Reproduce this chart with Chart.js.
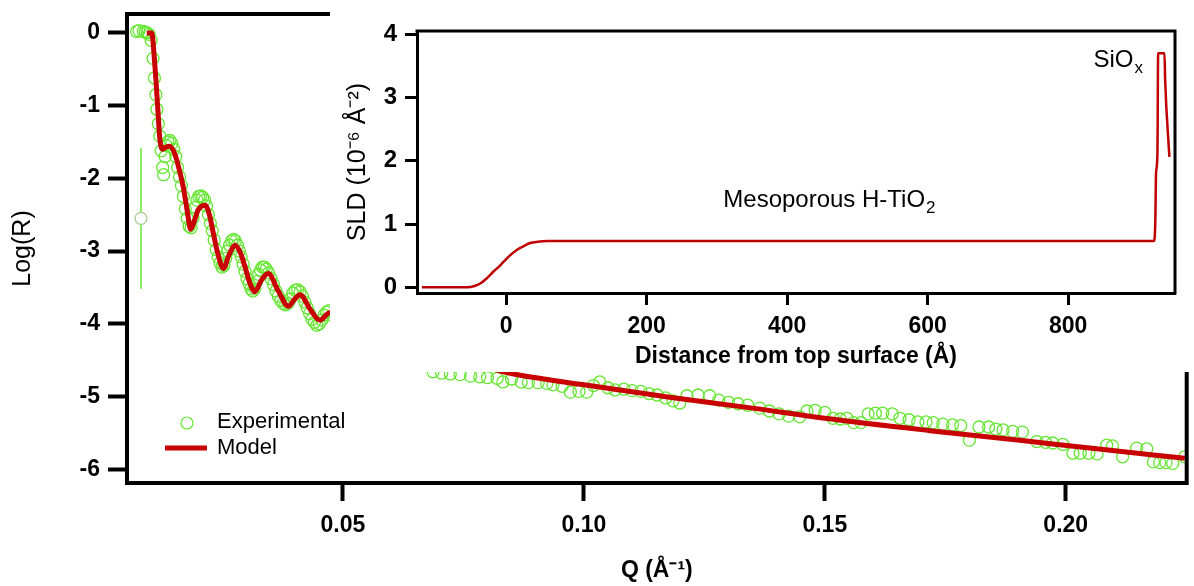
<!DOCTYPE html>
<html>
<head>
<meta charset="utf-8">
<title>Reflectivity</title>
<script src="https://cdn.jsdelivr.net/npm/chart.js@4.4.1/dist/chart.umd.min.js"></script>
<style>
  html, body { margin: 0; padding: 0; background: #fff; }
  #wrap { position: relative; width: 1194px; height: 586px; overflow: hidden; }
  #mainChart { position: absolute; left: 0; top: 0; }
  #insetChart { position: absolute; left: 330px; top: 0; background: #fff; }
</style>
</head>
<body>
<div id="wrap">
  <canvas id="mainChart" width="1194" height="586"></canvas>
  <canvas id="insetChart" width="864" height="372"></canvas>
</div>
<script>
// --- reflectivity data (main plot) ---
const qExp = [
  0.0072, 0.0077, 0.0086, 0.0090, 0.0094, 0.0098, 0.0102, 0.0106, 0.0109, 0.0112,
  0.0114, 0.0117, 0.0120, 0.0123, 0.0126, 0.0128, 0.0131, 0.0134, 0.0137, 0.0141,
  0.0145, 0.0149, 0.0153, 0.0157, 0.0161, 0.0165, 0.0169, 0.0173, 0.0177, 0.0181,
  0.0185, 0.0189, 0.0193, 0.0197, 0.0201, 0.0205, 0.0209, 0.0213, 0.0217, 0.0221,
  0.0225, 0.0229, 0.0233, 0.0237, 0.0241, 0.0245, 0.0249, 0.0253, 0.0257, 0.0261,
  0.0265, 0.0269, 0.0273, 0.0277, 0.0281, 0.0285, 0.0289, 0.0293, 0.0297, 0.0301,
  0.0305, 0.0309, 0.0313, 0.0317, 0.0321, 0.0325, 0.0329, 0.0333, 0.0337, 0.0341,
  0.0346, 0.0351, 0.0356, 0.0361, 0.0366, 0.0371, 0.0376, 0.0381, 0.0386, 0.0391,
  0.0396, 0.0401, 0.0406, 0.0411, 0.0416, 0.0421, 0.0426, 0.0431, 0.0436, 0.0441,
  0.0446, 0.0451, 0.0456, 0.0461, 0.0466, 0.0471, 0.0480, 0.0500, 0.0530, 0.0560,
  0.0590, 0.0620, 0.0650, 0.0687, 0.0705, 0.0723, 0.0743, 0.0765, 0.0784, 0.0800,
  0.0820, 0.0832, 0.0850, 0.0870, 0.0885, 0.0905, 0.0923, 0.0936, 0.0955, 0.0972,
  0.0990, 0.1006, 0.1020, 0.1033, 0.1050, 0.1065, 0.1083, 0.1100, 0.1118, 0.1135,
  0.1152, 0.1170, 0.1185, 0.1199, 0.1214, 0.1237, 0.1261, 0.1280, 0.1300, 0.1320,
  0.1340, 0.1365, 0.1385, 0.1405, 0.1425, 0.1448, 0.1463, 0.1480, 0.1500, 0.1517,
  0.1532, 0.1546, 0.1560, 0.1575, 0.1590, 0.1605, 0.1620, 0.1640, 0.1656, 0.1675,
  0.1693, 0.1710, 0.1725, 0.1745, 0.1765, 0.1782, 0.1800, 0.1820, 0.1840, 0.1855,
  0.1870, 0.1890, 0.1910, 0.1940, 0.1958, 0.1973, 0.1994, 0.2015, 0.2030, 0.2048,
  0.2065, 0.2085, 0.2097, 0.2118, 0.2147, 0.2168, 0.2182, 0.2195, 0.2208, 0.2222,
  0.2247
];
const logRExp = [
  0.02, 0.03, 0.02, 0.01, 0.00, -0.02, -0.10, -0.35, -0.62, -0.85,
  -1.05, -1.25, -1.42, -1.62, -1.85, -1.95, -1.70, -1.55, -1.50, -1.48,
  -1.52, -1.60, -1.70, -1.85, -1.98, -2.10, -2.25, -2.42, -2.55, -2.66,
  -2.68, -2.55, -2.40, -2.30, -2.25, -2.24, -2.26, -2.30, -2.38, -2.50,
  -2.62, -2.72, -2.85, -2.98, -3.08, -3.16, -3.22, -3.20, -3.10, -3.00,
  -2.92, -2.86, -2.84, -2.86, -2.92, -3.00, -3.08, -3.18, -3.28, -3.38,
  -3.45, -3.52, -3.55, -3.52, -3.42, -3.32, -3.26, -3.22, -3.22, -3.25,
  -3.30, -3.38, -3.46, -3.55, -3.62, -3.68, -3.72, -3.74, -3.72, -3.66,
  -3.58, -3.54, -3.53, -3.56, -3.62, -3.70, -3.78, -3.86, -3.94, -3.98,
  -4.02, -4.00, -3.95, -3.88, -3.84, -3.82, -3.90, -4.05, -4.15, -4.18,
  -4.30, -4.38, -4.45, -4.66, -4.68, -4.69, -4.70, -4.72, -4.73, -4.74,
  -4.75, -4.80, -4.76, -4.80, -4.81, -4.81, -4.82, -4.84, -4.86, -4.94,
  -4.93, -4.94, -4.85, -4.80, -4.88, -4.91, -4.90, -4.92, -4.93, -4.96,
  -4.98, -5.02, -5.06, -5.09, -4.99, -4.98, -4.99, -5.05, -5.08, -5.10,
  -5.12, -5.16, -5.20, -5.24, -5.27, -5.28, -5.20, -5.19, -5.22, -5.30,
  -5.31, -5.30, -5.36, -5.36, -5.24, -5.23, -5.23, -5.24, -5.30, -5.32,
  -5.35, -5.35, -5.36, -5.38, -5.39, -5.40, -5.60, -5.42, -5.42, -5.45,
  -5.46, -5.48, -5.49, -5.62, -5.63, -5.64, -5.66, -5.78, -5.78, -5.78,
  -5.79, -5.67, -5.68, -5.83, -5.71, -5.72, -5.90, -5.91, -5.91, -5.92,
  -5.83
];

// single low-Q point with a big error bar
const outlierQ = 0.0081;
const outlierLogR = -2.55;
const outlierErr = 0.97;

const qModel = [
  0.0093, 0.0103, 0.0110, 0.0116, 0.0120, 0.0126, 0.0133, 0.0140, 0.0151, 0.0160,
  0.0169, 0.0177, 0.0184, 0.0192, 0.0200, 0.0214, 0.0223, 0.0231, 0.0241, 0.0252,
  0.0264, 0.0276, 0.0287, 0.0297, 0.0307, 0.0317, 0.0331, 0.0345, 0.0366, 0.0387,
  0.0400, 0.0411, 0.0432, 0.0452, 0.0473, 0.0495, 0.0520, 0.0560, 0.0600, 0.0650,
  0.0700, 0.0760, 0.0847, 0.1000, 0.1178, 0.1350, 0.1500, 0.1718, 0.1900, 0.2050,
  0.2247
];
const logRModel = [
  0.00, 0.00, -0.46, -1.05, -1.45, -1.60, -1.57, -1.56, -1.66, -1.87,
  -2.13, -2.45, -2.70, -2.58, -2.43, -2.37, -2.50, -2.75, -3.05, -3.24,
  -3.05, -2.92, -3.02, -3.22, -3.44, -3.56, -3.40, -3.31, -3.55, -3.76,
  -3.66, -3.60, -3.80, -3.95, -3.85, -3.97, -4.15, -4.14, -4.28, -4.38,
  -4.46, -4.54, -4.68, -4.84, -5.01, -5.16, -5.30, -5.47, -5.60, -5.71,
  -5.85
];

const qTicks = [0.05, 0.10, 0.15, 0.20];
const logRTicks = [0, -1, -2, -3, -4, -5, -6];

// --- SLD profile (inset) ---
const depth = [
  -120, -90, -65, -56, -45, -37, -28, -18, -10, -4,
  5, 15, 25, 34, 45, 58, 70, 300, 600, 922,
  924, 925, 927, 928, 937, 938, 944
];
const sld = [
  0, 0, 0, 0, 0.02, 0.06, 0.14, 0.25, 0.33, 0.40,
  0.50, 0.59, 0.65, 0.70, 0.72, 0.73, 0.73, 0.73, 0.73, 0.73,
  1.05, 1.8, 2.1, 3.70, 3.70, 3.27, 2.06
];
const depthTicks = [0, 200, 400, 600, 800];
const sldTicks = [0, 1, 2, 3, 4];

const FONT = "'Liberation Sans', Arial, sans-serif";
const GREEN = '#66e633';
const RED = '#c80000';

Chart.defaults.font.family = FONT;
Chart.defaults.color = '#000';
Chart.defaults.animation = false;

function pairs(xs, ys) {
  return xs.map((x, i) => ({ x: x, y: ys[i] }));
}

function fixedTicks(values) {
  return scale => { scale.ticks = values.map(v => ({ value: v })); };
}

// fix the axis box size and drop the label overhang padding
function fitBox(size) {
  return s => {
    if (s.isHorizontal()) s.height = size; else s.width = size;
    s.paddingTop = 0; s.paddingBottom = 0;
    s.paddingLeft = 0; s.paddingRight = 0;
  };
}

// top and right edges of the plot box
function framePlugin(width) {
  return {
    id: 'frame',
    afterDraw(chart) {
      const { ctx, chartArea: a } = chart;
      ctx.save();
      ctx.strokeStyle = '#000';
      ctx.lineWidth = width;
      ctx.beginPath();
      ctx.moveTo(a.left - width / 2, a.top);
      ctx.lineTo(a.right, a.top);
      ctx.lineTo(a.right, a.bottom + width / 2);
      ctx.stroke();
      ctx.restore();
    }
  };
}

// legend drawn inside the plot, lower left
const legendPlugin = {
  id: 'insideLegend',
  afterDraw(chart) {
    const ctx = chart.ctx;
    ctx.save();
    ctx.font = '22px ' + FONT;
    ctx.fillStyle = '#000';
    ctx.textBaseline = 'middle';
    ctx.textAlign = 'left';

    ctx.strokeStyle = GREEN;
    ctx.lineWidth = 1.2;
    ctx.beginPath();
    ctx.arc(187, 423, 6, 0, Math.PI * 2);
    ctx.stroke();
    ctx.fillText('Experimental', 217, 422);

    ctx.strokeStyle = RED;
    ctx.lineWidth = 5;
    ctx.beginPath();
    ctx.moveTo(165, 448);
    ctx.lineTo(207, 448);
    ctx.stroke();
    ctx.fillText('Model', 217, 448);
    ctx.restore();
  }
};

new Chart(document.getElementById('mainChart'), {
  type: 'scatter',
  data: {
    datasets: [
      {
        label: 'Model',
        data: pairs(qModel, logRModel),
        showLine: true,
        borderColor: RED,
        borderWidth: 5,
        pointRadius: 0,
        cubicInterpolationMode: 'monotone',
        order: 0
      },
      {
        label: 'Experimental',
        data: pairs(qExp, logRExp),
        showLine: false,
        pointRadius: 6,
        pointBorderColor: GREEN,
        pointBackgroundColor: 'rgba(0,0,0,0)',
        pointBorderWidth: 1.3,
        order: 1
      },
      {
        label: 'Error',
        data: [
          { x: outlierQ, y: outlierLogR + outlierErr },
          { x: outlierQ, y: outlierLogR - outlierErr }
        ],
        showLine: true,
        borderColor: GREEN,
        borderWidth: 1.5,
        pointRadius: 0,
        order: 2
      },
      {
        label: 'Outlier',
        data: [{ x: outlierQ, y: outlierLogR }],
        pointRadius: 6,
        pointBorderColor: '#a8c890',
        pointBackgroundColor: '#fff',
        pointBorderWidth: 1.2,
        order: 1
      }
    ]
  },
  options: {
    responsive: false,
    devicePixelRatio: 1,
    layout: { padding: { left: 8, top: 14, right: 7, bottom: 2 } },
    plugins: { legend: { display: false }, tooltip: { enabled: false } },
    scales: {
      x: {
        type: 'linear',
        min: 0.0052,
        max: 0.2251,
        afterBuildTicks: fixedTicks(qTicks),
        afterFit: fitBox(101),
        border: { display: true, color: '#000', width: 4 },
        grid: { drawOnChartArea: false, drawTicks: true, tickLength: 18, tickWidth: 4, tickColor: '#000' },
        ticks: {
          autoSkip: false, maxRotation: 0, padding: 11,
          font: { size: 23, weight: 'bold' },
          callback: v => v.toFixed(2)
        },
        title: {
          display: true, text: 'Q (Å⁻¹)',
          font: { size: 23, weight: 'bold' },
          padding: { top: 0, bottom: 0 }
        }
      },
      y: {
        type: 'linear',
        min: -6.19,
        max: 0.26,
        afterBuildTicks: fixedTicks(logRTicks),
        afterFit: fitBox(119),
        border: { display: true, color: '#000', width: 4 },
        grid: { drawOnChartArea: false, drawTicks: true, tickLength: 19, tickWidth: 4, tickColor: '#000' },
        ticks: {
          autoSkip: false, padding: 8,
          font: { size: 23, weight: 'bold' },
          callback: v => String(v)
        },
        title: {
          display: true, text: 'Log(R)',
          font: { size: 25 },
          padding: { top: 0, bottom: 0 }
        }
      }
    }
  },
  plugins: [framePlugin(4), legendPlugin]
});

// text with a subscript, placed in data coordinates
const insetLabels = [
  { text: 'Mesoporous H-TiO', sub: '2', x: 309, y: 1.37 },
  { text: 'SiO', sub: 'x', x: 836, y: 3.59 }
];

const insetLabelPlugin = {
  id: 'insetLabels',
  afterDatasetsDraw(chart) {
    const ctx = chart.ctx;
    const xs = chart.scales.x, ys = chart.scales.y;
    ctx.save();
    ctx.fillStyle = '#000';
    ctx.textBaseline = 'middle';
    ctx.textAlign = 'left';
    insetLabels.forEach(l => {
      const px = xs.getPixelForValue(l.x);
      const py = ys.getPixelForValue(l.y);
      ctx.font = '24px ' + FONT;
      ctx.fillText(l.text, px, py);
      const w = ctx.measureText(l.text).width;
      ctx.font = '17px ' + FONT;
      ctx.fillText(l.sub, px + w + 1, py + 8);
    });
    ctx.restore();
  }
};

new Chart(document.getElementById('insetChart'), {
  type: 'scatter',
  data: {
    datasets: [{
      label: 'SLD',
      data: pairs(depth, sld),
      showLine: true,
      borderColor: '#c00000',
      borderWidth: 2.5,
      pointRadius: 0,
      cubicInterpolationMode: 'monotone'
    }]
  },
  options: {
    responsive: false,
    devicePixelRatio: 1,
    layout: { padding: { left: 13, top: 31, right: 19, bottom: 2 } },
    plugins: { legend: { display: false }, tooltip: { enabled: false } },
    scales: {
      x: {
        type: 'linear',
        min: -127,
        max: 952,
        afterBuildTicks: fixedTicks(depthTicks),
        afterFit: fitBox(77),
        border: { display: true, color: '#000', width: 3 },
        grid: { drawOnChartArea: false, drawTicks: true, tickLength: 12, tickWidth: 3, tickColor: '#000' },
        ticks: {
          autoSkip: false, maxRotation: 0, padding: 8,
          font: { size: 23, weight: 'bold' },
          callback: v => String(v)
        },
        title: {
          display: true, text: 'Distance from top surface (Å)',
          font: { size: 23, weight: 'bold' },
          padding: { top: 0, bottom: 0 }
        }
      },
      y: {
        type: 'linear',
        min: -0.09,
        max: 4.05,
        afterBuildTicks: fixedTicks(sldTicks),
        afterFit: fitBox(74),
        border: { display: true, color: '#000', width: 3 },
        grid: { drawOnChartArea: false, drawTicks: true, tickLength: 12, tickWidth: 3, tickColor: '#000' },
        ticks: {
          autoSkip: false, padding: 8,
          font: { size: 24, weight: 'bold' },
          callback: v => String(v)
        },
        title: {
          display: true, text: 'SLD (10⁻⁶ Å⁻²)',
          font: { size: 25 },
          padding: { top: 0, bottom: 0 }
        }
      }
    }
  },
  plugins: [framePlugin(3), insetLabelPlugin]
});
</script>
</body>
</html>
